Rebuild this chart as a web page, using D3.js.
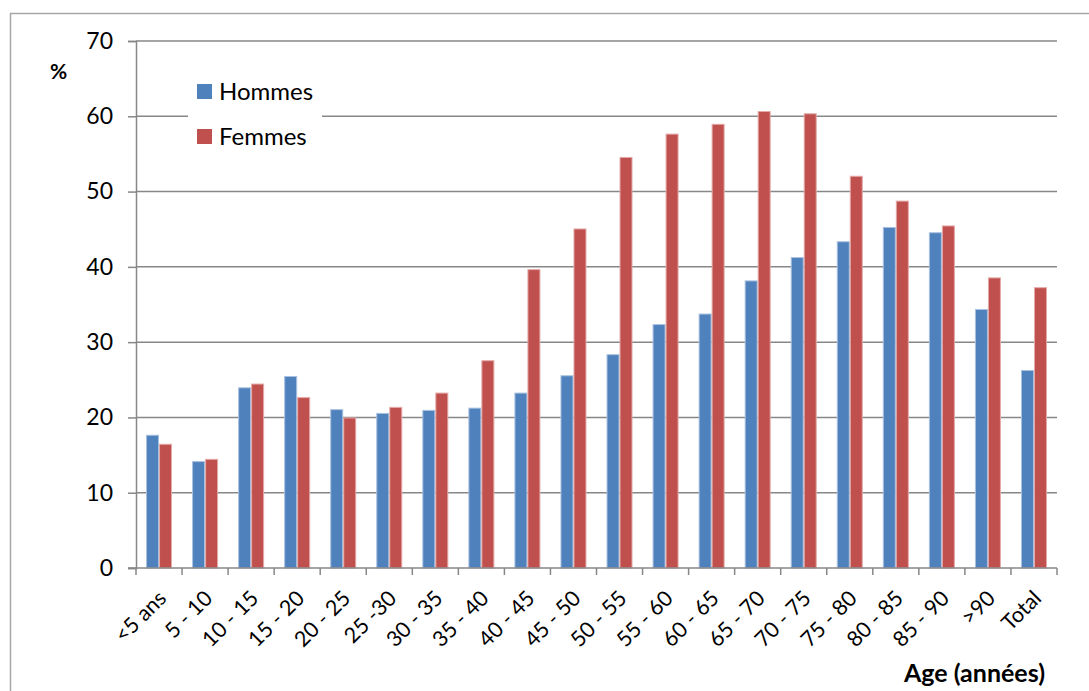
<!DOCTYPE html>
<html>
<head>
<meta charset="utf-8">
<script src="https://cdn.jsdelivr.net/npm/d3@7"></script>
<style>
  html, body { margin: 0; padding: 0; background: #fff; }
  svg { display: block; font-family: Lato, "Open Sans", sans-serif; }
</style>
</head>
<body>
<svg id="chart" width="1089" height="691"></svg>
<script>
// Age groups
const categories = ["<5 ans", "5 - 10", "10 - 15", "15 - 20", "20 - 25", "25 -30", "30 - 35",
  "35 - 40", "40 - 45", "45 - 50", "50 - 55", "55 - 60", "60 - 65", "65 - 70", "70 - 75",
  "75 - 80", "80 - 85", "85 - 90", ">90", "Total"];

// Percentages per age group
const hommes = [17.7, 14.2, 24.0, 25.5, 21.1, 20.6, 21.0, 21.3, 23.3, 25.6, 28.4, 32.4,
  33.8, 38.2, 41.3, 43.4, 45.3, 44.6, 34.4, 26.3];
const femmes = [16.5, 14.5, 24.5, 22.7, 20.0, 21.4, 23.3, 27.6, 39.7, 45.1, 54.6, 57.7,
  59.0, 60.7, 60.4, 52.1, 48.8, 45.5, 38.6, 37.3];

const seriesNames = ["Hommes", "Femmes"];
const yTicks = [0, 10, 20, 30, 40, 50, 60, 70];

const colors = { Hommes: "#4F81BD", Femmes: "#C0504D" };
const edges = { Hommes: "#a9c1e0", Femmes: "#e3aaa8" };
const gridColor = "#878787";

const svg = d3.select("#chart");

// outer chart frame
svg.append("path")
  .attr("d", "M10.5,691 L10.5,13.5 L1089,13.5")
  .attr("fill", "none").attr("stroke", "#a6a6a6").attr("stroke-width", 1.5);

const plot = { left: 136, right: 1057, top: 41, bottom: 568 };

const x = d3.scaleBand().domain(categories).range([plot.left, plot.right]).paddingInner(0).paddingOuter(0);
const bandW = x.bandwidth();
const barW = 13;
const xs = d3.scaleBand().domain(seriesNames).range([bandW / 2 - barW, bandW / 2 + barW]);

const y = d3.scaleLinear().domain([0, 70]).range([plot.bottom, plot.top]);

// horizontal gridlines
svg.append("g").selectAll("line").data(yTicks.slice(1)).join("line")
  .attr("x1", plot.left).attr("x2", plot.right)
  .attr("y1", d => y(d)).attr("y2", d => y(d))
  .attr("stroke", gridColor).attr("stroke-width", 1.5);

// y axis
const yAxis = svg.append("g").attr("transform", `translate(${plot.left},0)`)
  .call(d3.axisLeft(y).tickValues(yTicks).tickSize(8).tickPadding(15));
yAxis.select(".domain").attr("stroke", gridColor).attr("stroke-width", 1.5);
yAxis.selectAll(".tick line").attr("stroke", gridColor).attr("stroke-width", 1.5);
yAxis.selectAll(".tick text").attr("font-size", 23).attr("fill", "#000")
  .style("font-family", "Lato, 'Open Sans', sans-serif");

// bars
const data = categories.map((c, i) => ({ cat: c, Hommes: hommes[i], Femmes: femmes[i] }));
const groups = svg.append("g").selectAll("g").data(data).join("g")
  .attr("transform", d => `translate(${x(d.cat)},0)`);
groups.selectAll("rect").data(d => seriesNames.map(s => ({ s, v: d[s] }))).join("rect")
  .attr("x", d => xs(d.s) + 0.5)
  .attr("width", xs.bandwidth() - 1)
  .attr("y", d => y(d.v) + 0.5)
  .attr("height", d => y(0) - y(d.v) - 0.5)
  .attr("fill", d => colors[d.s])
  .attr("stroke", d => edges[d.s]).attr("stroke-width", 1);

// x axis with boundary ticks between groups
const xAxisG = svg.append("g");
xAxisG.append("line")
  .attr("x1", plot.left - 8).attr("x2", plot.right)
  .attr("y1", plot.bottom).attr("y2", plot.bottom)
  .attr("stroke", gridColor).attr("stroke-width", 1.5);
const bounds = categories.map(c => x(c)).concat([plot.right]);
xAxisG.selectAll("line.t").data(bounds).join("line").attr("class", "t")
  .attr("x1", d => d).attr("x2", d => d)
  .attr("y1", plot.bottom).attr("y2", plot.bottom + 7)
  .attr("stroke", gridColor).attr("stroke-width", 1.5);
xAxisG.selectAll("text").data(categories).join("text")
  .attr("transform", d => `translate(${x(d) + bandW / 2 - 2},${plot.bottom + 21}) rotate(-45)`)
  .attr("text-anchor", "end")
  .attr("dy", "0.7em")
  .attr("font-size", 21.5)
  .attr("fill", "#000")
  .text(d => d);

// axis titles
svg.append("text").attr("x", 50).attr("y", 79)
  .attr("font-size", 21).attr("font-weight", "bold").text("%");
svg.append("text").attr("x", 1045).attr("y", 682).attr("text-anchor", "end")
  .attr("font-size", 25).attr("font-weight", "bold").text("Age (années)");

// legend
const legend = svg.append("g");
legend.append("rect").attr("x", 188).attr("y", 70).attr("width", 134).attr("height", 90).attr("fill", "#fff");
const li = legend.selectAll("g").data(seriesNames).join("g")
  .attr("transform", (d, i) => `translate(197,${84 + i * 45})`);
li.append("rect").attr("width", 15).attr("height", 15).attr("fill", d => colors[d]);
li.append("text").attr("x", 22).attr("y", 16).attr("font-size", 24).attr("fill", "#000").text(d => d);
</script>
</body>
</html>
